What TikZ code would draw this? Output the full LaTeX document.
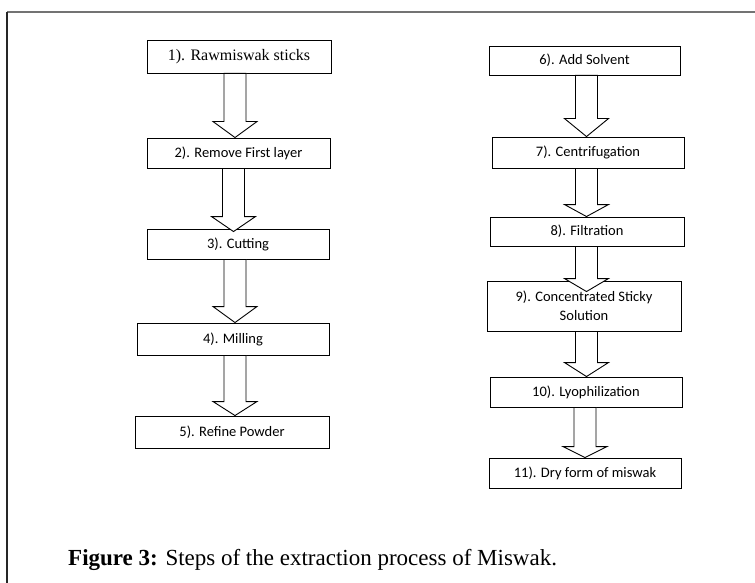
\documentclass[tikz,border=0pt]{standalone}
\usepackage{fontspec}
\setmainfont{Liberation Serif}
\newfontfamily\boxfont{Carlito}
\usetikzlibrary{calc}
\tikzset{
  stepbox/.style={draw=black, line width=0.9pt, fill=white, inner sep=0pt, align=center,
    font=\boxfont\fontsize{14.5}{17}\selectfont},
  serifbox/.style={stepbox, font=\rmfamily\fontsize{16}{19}\selectfont},
  blk/.style={draw=black, line width=0.9pt, fill=white, line join=miter},
  frameline/.style={line width=1.3pt},
}
% #1 from node, #2 to node, #3 shaft centre x, #4 head length, #5 tip depth into target
\newcommand\barrow[5]{%
  \coordinate (ax) at (#3,0);
  \draw[blk] ($(ax |- #1.south)+(-11,0)$) -- ($(ax |- #2.north)+(-11,#5-#4)$)
    -- ($(ax |- #2.north)+(-22,#5-#4)$) -- ($(ax |- #2.north)+(0,#5)$)
    -- ($(ax |- #2.north)+(22,#5-#4)$) -- ($(ax |- #2.north)+(11,#5-#4)$)
    -- ($(ax |- #1.south)+(11,0)$) -- cycle;
}
\begin{document}
\begin{tikzpicture}[x=1pt,y=-1pt]
\useasboundingbox (0,0) rectangle (755,583);
\fill[white] (0,0) rectangle (755,583);
% frame
\draw[frameline, draw=black!55] (7,12) -- (755,12);
\draw[frameline, draw=black!85] (7,12) -- (7,583);

% left column
\node[serifbox, minimum width=184pt, minimum height=33pt] (b1) at (239,56.5) {1). Rawmiswak sticks};
\node[stepbox, minimum width=183pt, minimum height=30pt] (b2) at (238.5,153) {2). Remove First layer};
\node[stepbox, minimum width=182pt, minimum height=30pt] (b3) at (238,244) {3). Cutting};
\node[stepbox, minimum width=192pt, minimum height=32pt] (b4) at (233,339) {4). Milling};
\node[stepbox, minimum width=194pt, minimum height=32pt] (b5) at (232,432) {5). Refine Powder};

% right column
\node[stepbox, minimum width=191pt, minimum height=29pt] (b6) at (584.5,60.5) {6). Add Solvent};
\node[stepbox, minimum width=192pt, minimum height=31pt] (b7) at (588,152.5) {7). Centrifugation};
\node[stepbox, minimum width=194pt, minimum height=29pt] (b8) at (587,231.5) {8). Filtration};
\node[stepbox, minimum width=194pt, minimum height=50pt] (b9) at (584,306) {9). Concentrated Sticky\\[2pt]Solution};
\node[stepbox, minimum width=192pt, minimum height=30pt] (b10) at (586,392) {10). Lyophilization};
\node[stepbox, minimum width=192pt, minimum height=30pt] (b11) at (585,473) {11). Dry form of miswak};

% block arrows
\barrow{b1}{b2}{235}{16}{0}
\barrow{b2}{b3}{233.5}{15}{3}
\barrow{b3}{b4}{235}{16}{0}
\barrow{b4}{b5}{235}{14}{0}
\barrow{b6}{b7}{586.5}{18}{0}
\barrow{b7}{b8}{586.5}{12}{0}
\barrow{b8}{b9}{586.5}{13}{11}
\barrow{b9}{b10}{586.5}{14}{0}
\barrow{b10}{b11}{585}{11}{0}

% caption
\node[anchor=base west, inner sep=0pt, font=\fontsize{23}{27}\selectfont] (cap) at (68,565)
  {\textbf{Figure 3:} Steps of the extraction process of Miswak.};
\end{tikzpicture}
\end{document}
